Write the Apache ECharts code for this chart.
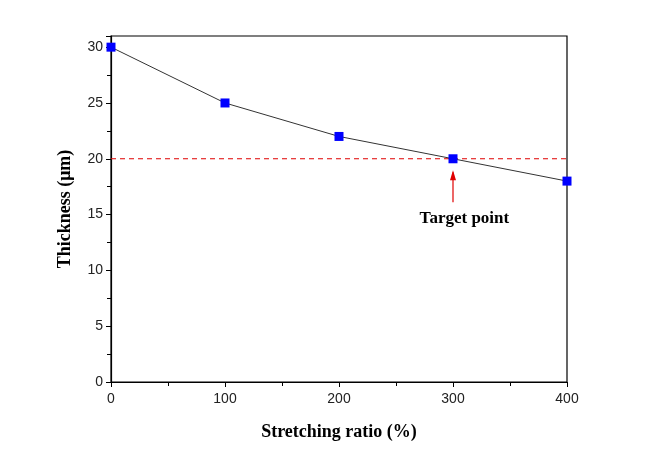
<!DOCTYPE html>
<html><head><meta charset="utf-8">
<script src="https://cdn.jsdelivr.net/npm/echarts@6/dist/echarts.min.js"></script>
<style>html,body{margin:0;padding:0;background:#fff}#c{width:648px;height:470px}</style>
</head><body><div id="c"></div>
<script>
const stretchRatio = [0, 100, 200, 300, 400];
const thickness = [30, 25, 22, 20, 18];
const targetValue = 20;
const targetX = 300;
const arrowFrom = 16.1, arrowTo = 18.8;
const labelPos = [310, 14.6];
const labelText = 'Target point';

const chart = echarts.init(document.getElementById('c'));
const serif = 'Liberation Serif';
const sans = 'Liberation Sans';
const red = '#e00000';
chart.setOption({
  animation: false,
  grid: {left: 111, right: 81, top: 36, bottom: 88, show: true, borderColor: '#000', borderWidth: 1.2},
  xAxis: {
    type: 'value', min: 0, max: 400, interval: 100,
    name: 'Stretching ratio (%)', nameLocation: 'middle', nameGap: 41,
    nameTextStyle: {fontFamily: serif, fontWeight: 'bold', fontSize: 18, color: '#000'},
    axisLine: {show: true, lineStyle: {color: '#000', width: 1.2}},
    axisTick: {show: true, length: 5, lineStyle: {color: '#000'}},
    minorTick: {show: true, splitNumber: 2, length: 4, lineStyle: {color: '#000'}},
    axisLabel: {fontFamily: sans, fontSize: 14, color: '#222', margin: 10},
    splitLine: {show: false}
  },
  yAxis: {
    type: 'value', min: 0, max: 31, interval: 5,
    name: 'Thickness (\u03bcm)', nameLocation: 'middle', nameGap: 37,
    nameTextStyle: {fontFamily: serif, fontWeight: 'bold', fontSize: 18, color: '#000'},
    axisLine: {show: true, lineStyle: {color: '#000', width: 1.2}},
    axisTick: {show: true, length: 5, lineStyle: {color: '#000'}},
    minorTick: {show: true, splitNumber: 2, length: 4, lineStyle: {color: '#000'}},
    axisLabel: {fontFamily: sans, fontSize: 14, color: '#222', margin: 8,
      formatter: v => (v % 5 === 0 ? String(v) : '')},
    splitLine: {show: false}
  },
  series: [{
    type: 'line',
    data: [[0, targetValue], [400, targetValue]],
    symbol: 'none', silent: true,
    lineStyle: {color: red, type: [5, 4], width: 1.2}
  }, {
    type: 'line',
    data: [[targetX, arrowFrom], [targetX, arrowTo]],
    symbol: 'none', silent: true,
    lineStyle: {color: red, width: 1.2},
    markPoint: {
      silent: true,
      data: [
        {coord: [targetX, arrowTo], symbol: 'triangle', symbolSize: [6, 10], symbolOffset: [0, 3], itemStyle: {color: red}, label: {show: false}},
        {coord: labelPos, symbol: 'rect', symbolSize: 0, value: labelText,
         label: {show: true, position: 'inside', formatter: labelText,
           fontFamily: serif, fontWeight: 'bold', fontSize: 17, color: '#000'}}
      ]
    }
  }, {
    type: 'line',
    data: stretchRatio.map((x, i) => [x, thickness[i]]),
    symbol: 'rect', symbolSize: 9,
    itemStyle: {color: '#0000ff'},
    lineStyle: {color: '#333', width: 1},
    z: 5
  }]
});
</script></body></html>
